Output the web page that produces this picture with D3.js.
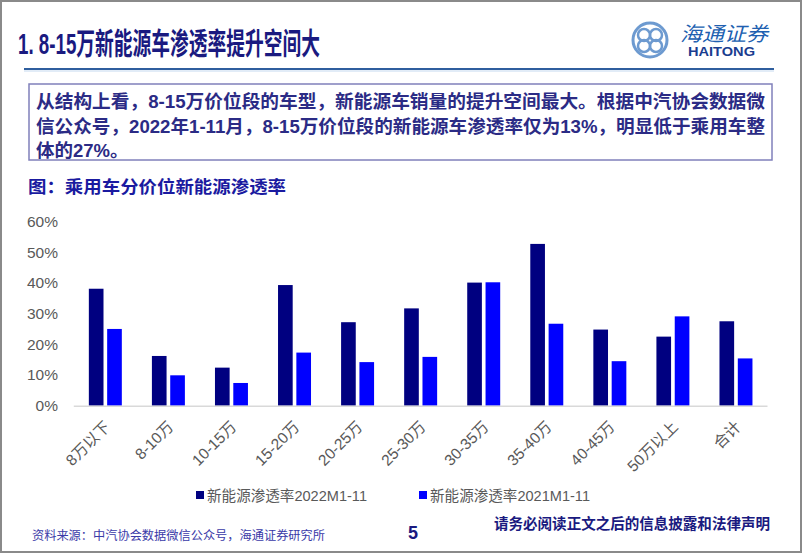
<!DOCTYPE html>
<html><head><meta charset="utf-8">
<script src="https://cdn.jsdelivr.net/npm/d3@7"></script>
<style>
html,body{margin:0;padding:0;background:#fff;}
svg{display:block;}
text{font-family:"Liberation Sans",Arial,"Noto Sans CJK SC",sans-serif;}
</style></head>
<body>
<script>
const categories = ["8万以下","8-10万","10-15万","15-20万","20-25万","25-30万","30-35万","35-40万","40-45万","50万以上","合计"];
const series = ["新能源渗透率2022M1-11","新能源渗透率2021M1-11"];
const values2022 = [38.1,16.2,12.4,39.3,27.2,31.7,40.1,52.7,24.8,22.5,27.5];
const values2021 = [25.0,9.9,7.4,17.3,14.2,15.9,40.2,26.7,14.5,29.1,15.4];
const yTicks = [0,10,20,30,40,50,60];
const colors = ["#000080","#0000ff"];

const W = 802, H = 554;
const svg = d3.select("body").append("svg").attr("width", W).attr("height", H);
svg.append("rect").attr("x",0).attr("y",0).attr("width",W).attr("height",H).attr("fill","#fff");
// frame
svg.append("rect").attr("x",1).attr("y",1).attr("width",W-2).attr("height",551)
  .attr("fill","none").attr("stroke","#8a8a8a").attr("stroke-width",2);

// title
svg.append("text").attr("x",18).attr("y",54)
  .attr("font-size",30).attr("font-weight","bold").attr("fill","#1a1a80")
  .attr("textLength",302).attr("lengthAdjust","spacingAndGlyphs")
  .text("1. 8-15万新能源车渗透率提升空间大");
svg.append("line").attr("x1",24).attr("x2",774).attr("y1",69).attr("y2",69)
  .attr("stroke","#2f5e9e").attr("stroke-width",2);
svg.append("line").attr("x1",24).attr("x2",774).attr("y1",71).attr("y2",71)
  .attr("stroke","#d8e6f5").attr("stroke-width",1.5);

// logo
const lg = svg.append("g").attr("transform","translate(650,40)");
lg.append("circle").attr("r",17).attr("fill","none").attr("stroke","#6d9ad0").attr("stroke-width",3);
lg.append("circle").attr("cx",-6).attr("cy",-5).attr("r",6).attr("fill","none").attr("stroke","#6d9ad0").attr("stroke-width",2.5);
lg.append("circle").attr("cx",6).attr("cy",-5).attr("r",6).attr("fill","none").attr("stroke","#6d9ad0").attr("stroke-width",2.5);
lg.append("circle").attr("cx",-6).attr("cy",6).attr("r",6).attr("fill","none").attr("stroke","#6d9ad0").attr("stroke-width",2.5);
lg.append("circle").attr("cx",6).attr("cy",6).attr("r",6).attr("fill","none").attr("stroke","#6d9ad0").attr("stroke-width",2.5);
svg.append("text").attr("x",680).attr("y",41).attr("font-size",20).attr("font-style","italic")
  .attr("fill","#2060b0").attr("textLength",88).attr("lengthAdjust","spacingAndGlyphs")
  .attr("font-family","'Noto Sans CJK SC',sans-serif").text("海通证券");
svg.append("text").attr("x",688).attr("y",56).attr("font-size",13).attr("font-weight","bold")
  .attr("fill","#1a3d8f").attr("textLength",67).attr("lengthAdjust","spacingAndGlyphs").text("HAITONG");

// text box
svg.append("rect").attr("x",29).attr("y",84).attr("width",743).attr("height",76)
  .attr("fill","#fff").attr("stroke","#8080bb").attr("stroke-width",1.5);
const bodyLines = [
  ["从结构上看，8-15万价位段的车型，新能源车销量的提升空间最大。根据中汽协会数据微", 729],
  ["信公众号，2022年1-11月，8-15万价位段的新能源车渗透率仅为13%，明显低于乘用车整", 729],
  ["体的27%。", null]
];
bodyLines.forEach((l,i)=>{
  const t = svg.append("text").attr("x",36).attr("y",108+i*24.5)
    .attr("font-size",18.5).attr("font-weight","bold").attr("fill","#2b2b85").text(l[0]);
  if (l[1]) t.attr("textLength",l[1]).attr("lengthAdjust","spacingAndGlyphs");
});

// subtitle
svg.append("text").attr("x",28).attr("y",193).attr("font-size",17).attr("font-weight","bold")
  .attr("fill","#1a1aa0").attr("textLength",258).attr("lengthAdjust","spacingAndGlyphs")
  .text("图：乘用车分价位新能源渗透率");

// chart
const x0 = d3.scaleBand().domain(categories).range([73.8,767.5]).paddingInner(0.477).paddingOuter(0.2385);
const x1 = d3.scaleBand().domain(series).range([0,x0.bandwidth()]).paddingInner(0.2);
const y = d3.scaleLinear().domain([0,60]).range([405.7,221.5]);

const yAxis = svg.append("g").attr("transform","translate(58,0)")
  .call(d3.axisLeft(y).tickValues(yTicks).tickFormat(d=>d+"%").tickSize(0).tickPadding(0));
yAxis.select(".domain").remove();
yAxis.selectAll("text").attr("font-size",15.5).attr("fill","#595959")
  .attr("font-family","'Liberation Sans',Arial,sans-serif");

const data = categories.map((c,i)=>({c, v:[values2022[i], values2021[i]]}));
const groups = svg.append("g").selectAll("g").data(data).join("g")
  .attr("transform",d=>`translate(${x0(d.c)},0)`);
groups.selectAll("rect").data(d=>d.v.map((v,j)=>({s:series[j],v,j}))).join("rect")
  .attr("x",d=>x1(d.s)).attr("width",x1.bandwidth())
  .attr("y",d=>y(d.v)).attr("height",d=>y(0)-y(d.v))
  .attr("fill",d=>colors[d.j]);

svg.append("line").attr("x1",73.8).attr("x2",767.5).attr("y1",y(0)+0.5).attr("y2",y(0)+0.5)
  .attr("stroke","#d9d9d9").attr("stroke-width",1.5);

const xAxis = svg.append("g").attr("transform",`translate(0,${y(0)})`)
  .call(d3.axisBottom(x0).tickSize(0).tickPadding(0));
xAxis.select(".domain").remove();
xAxis.selectAll("text")
  .attr("font-size",15.5).attr("fill","#595959")
  .attr("text-anchor","end").attr("dy",0).attr("y",0)
  .attr("transform","translate(6,22) rotate(-45)");

// legend
series.forEach((s,i)=>{
  const lx = [196,419][i];
  svg.append("rect").attr("x",lx).attr("y",491).attr("width",8).attr("height",8).attr("fill",colors[i]);
  svg.append("text").attr("x",lx+11).attr("y",500.5).attr("font-size",15).attr("fill","#595959")
    .attr("textLength",160).attr("lengthAdjust","spacingAndGlyphs").text(s);
});

// footer
svg.append("text").attr("x",32).attr("y",540).attr("font-size",12).attr("fill","#3a3aa8")
  .attr("textLength",293).attr("lengthAdjust","spacingAndGlyphs")
  .text("资料来源：中汽协会数据微信公众号，海通证券研究所");
svg.append("text").attr("x",408).attr("y",539).attr("font-size",18).attr("font-weight","bold")
  .attr("fill","#1a1a80").text("5");
svg.append("text").attr("x",494).attr("y",529).attr("font-size",15).attr("font-weight","bold")
  .attr("fill","#1a1a80").attr("textLength",276).attr("lengthAdjust","spacingAndGlyphs")
  .text("请务必阅读正文之后的信息披露和法律声明");
</script>
</body></html>
